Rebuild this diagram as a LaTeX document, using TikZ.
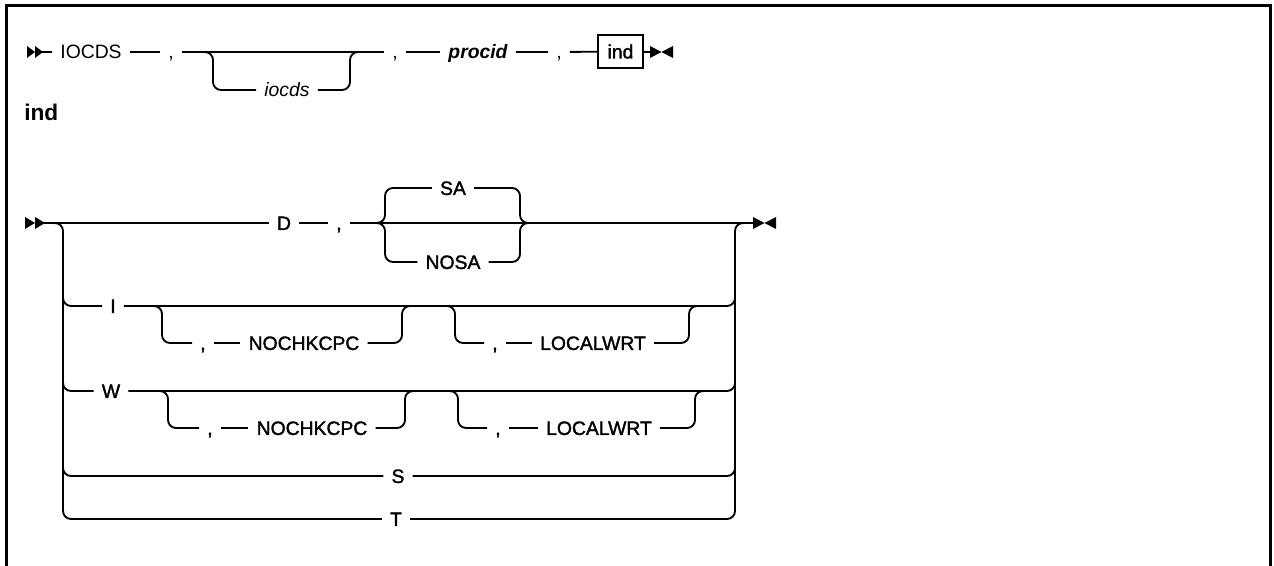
\documentclass[tikz,border=0pt]{standalone}
\usepackage{fontspec}
\setmainfont{Liberation Sans}
\newfontfamily\medfont[FakeBold=1.6]{Liberation Sans}
\begin{document}
\begin{tikzpicture}[x=0.75pt,y=-0.75pt,
  rail/.style={line width=1.4pt, rounded corners=6pt},
  lbl/.style={inner xsep=6pt, inner ysep=0pt, text height=10.4pt, text depth=0pt, font=\fontsize{14.5}{17}\selectfont},
  mlbl/.style={lbl, font=\fontsize{14.5}{17}\medfont},
  ital/.style={lbl, font=\fontsize{14.5}{17}\selectfont\itshape},
  boldital/.style={lbl, font=\fontsize{14.5}{17}\selectfont\bfseries\itshape},
  boxn/.style={draw, line width=1.1pt, inner sep=0pt, minimum width=33.75pt, minimum height=24.75pt, text height=10.4pt, text depth=0pt, font=\fontsize{14.5}{17}\medfont},
  frame/.style={line width=2.3pt},
  tip/.style={fill=black}
]
\useasboundingbox (0,0) rectangle (1274,566);
\draw[frame] (6.5,566) -- (6.5,5.5) -- (1270.5,5.5) -- (1270.5,566);

% ---------- diagram 1 ----------
\fill[tip] (27,46) -- (35,52) -- (27,58) -- cycle;
\fill[tip] (35,46) -- (43,52) -- (35,58) -- cycle;
\coordinate (s1) at (42,52);
\node[lbl] (kwiocds) at (91,52) {IOCDS};
\node[lbl] (c1) at (171,52) {,};
\node[ital] (iocds) at (287,90) {iocds};
\node[lbl] (c2) at (395,52) {,};
\node[boldital] (procid) at (478,52) {procid};
\node[lbl] (c3) at (559,52) {,};
\node[boxn] (indbox) at (620.5,51.5) {ind};
\coordinate (e1) at (651,52);
\fill[tip] (650,46) -- (661.5,52) -- (650,58) -- cycle;
\fill[tip] (673,46) -- (661.5,52) -- (673,58) -- cycle;

\draw[rail] (s1) -- (kwiocds);
\draw[rail] (kwiocds) -- (c1);
\draw[rail] (c1) -- (c2);
\draw[rail] (205,52) -- (213,52) -- (213,90) -- (iocds);
\draw[rail] (iocds) -- (350,90) -- (350,52) -- (358,52);
\draw[rail] (c2) -- (procid);
\draw[rail] (procid) -- (c3);
\draw[rail] (c3) -- (indbox);
\draw[rail] (indbox) -- (e1);

% ---------- heading ----------
\node[inner sep=0pt, anchor=west, font=\fontsize{17}{20}\selectfont\bfseries] (indhead) at (24,112) {ind};

% ---------- diagram 2 ----------
\fill[tip] (25,217) -- (35,223) -- (25,229) -- cycle;
\fill[tip] (35,217) -- (45,223) -- (35,229) -- cycle;
\coordinate (s2) at (44,223);
\node[mlbl] (D) at (284,223) {D};
\node[mlbl] (cD) at (339,223) {,};
\node[mlbl] (SA) at (453,188) {SA};
\node[mlbl] (NOSA) at (453,262) {NOSA};
\coordinate (e2) at (754,223);
\fill[tip] (753,217) -- (764.5,223) -- (753,229) -- cycle;
\fill[tip] (776,217) -- (764.5,223) -- (776,229) -- cycle;

\node[mlbl] (I) at (113,306) {I};
\node[mlbl] (Ic1) at (203,343) {,};
\node[mlbl] (Inochk) at (304,343) {NOCHKCPC};
\node[mlbl] (Ic2) at (495,343) {,};
\node[mlbl] (Iloc) at (593,343) {LOCALWRT};

\node[mlbl] (W) at (111,391) {W};
\node[mlbl] (Wc1) at (210,428) {,};
\node[mlbl] (Wnochk) at (312,428) {NOCHKCPC};
\node[mlbl] (Wc2) at (498,428) {,};
\node[mlbl] (Wloc) at (599,428) {LOCALWRT};

\node[mlbl] (S) at (398,476) {S};
\node[mlbl] (T) at (396,519) {T};

% main D row
\draw[rail] (s2) -- (D);
\draw[rail] (D) -- (cD);
\draw[rail] (cD) -- (e2);
\draw[rail] (377,223) -- (385,223) -- (385,188) -- (SA);
\draw[rail] (377,223) -- (385,223) -- (385,262) -- (NOSA);
\draw[rail] (SA) -- (520,188) -- (520,223) -- (528,223);
\draw[rail] (NOSA) -- (520,262) -- (520,223) -- (528,223);

% left and right rails
\draw[rail] (53,223) -- (63,223) -- (63,519) -- (T);
\draw[rail] (T) -- (735,519) -- (735,223) -- (745,223);

% I row
\draw[rail] (63,296) -- (63,306) -- (I);
\draw[rail] (I) -- (735,306) -- (735,296);
\draw[rail] (152,306) -- (162,306) -- (162,343) -- (Ic1);
\draw[rail] (Ic1) -- (Inochk);
\draw[rail] (Inochk) -- (402,343) -- (402,306) -- (410,306);
\draw[rail] (445,306) -- (455,306) -- (455,343) -- (Ic2);
\draw[rail] (Ic2) -- (Iloc);
\draw[rail] (Iloc) -- (689,343) -- (689,306) -- (697,306);

% W row
\draw[rail] (63,381) -- (63,391) -- (W);
\draw[rail] (W) -- (735,391) -- (735,381);
\draw[rail] (158,391) -- (168,391) -- (168,428) -- (Wc1);
\draw[rail] (Wc1) -- (Wnochk);
\draw[rail] (Wnochk) -- (405,428) -- (405,391) -- (413,391);
\draw[rail] (450,391) -- (458,391) -- (458,428) -- (Wc2);
\draw[rail] (Wc2) -- (Wloc);
\draw[rail] (Wloc) -- (695,428) -- (695,391) -- (703,391);

% S row
\draw[rail] (63,466) -- (63,476) -- (S);
\draw[rail] (S) -- (735,476) -- (735,466);
\end{tikzpicture}
\end{document}
